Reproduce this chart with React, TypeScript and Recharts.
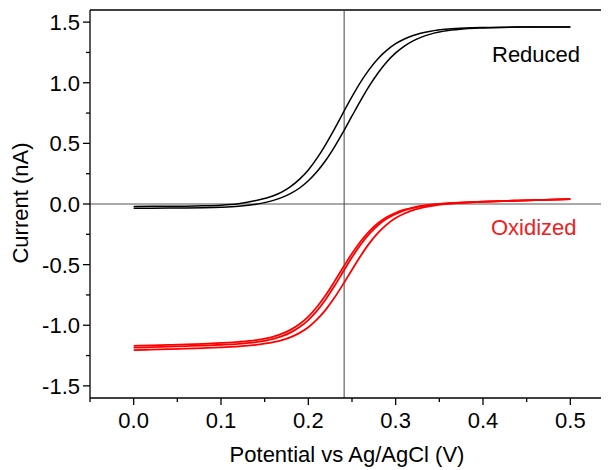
import { LineChart, Line, XAxis, YAxis, ReferenceLine } from 'recharts';

// potential (V vs Ag/AgCl)
const potential = [0, 0.02, 0.04, 0.06, 0.08, 0.1, 0.12, 0.14, 0.16, 0.17, 0.18, 0.19, 0.2, 0.21, 0.22, 0.23, 0.24, 0.25, 0.26, 0.27, 0.28, 0.29, 0.3, 0.31, 0.32, 0.34, 0.36, 0.38, 0.4, 0.44, 0.5];

// reduced form, two sweep directions (nA)
const reducedFwd = [-0.02, -0.019, -0.019, -0.018, -0.015, -0.01, 0.002, 0.028, 0.068, 0.1, 0.145, 0.205, 0.281, 0.378, 0.492, 0.619, 0.754, 0.885, 1.007, 1.112, 1.2, 1.269, 1.322, 1.361, 1.39, 1.425, 1.443, 1.452, 1.456, 1.459, 1.46];
const reducedRev = [-0.035, -0.035, -0.034, -0.033, -0.031, -0.027, -0.019, -0.002, 0.03, 0.055, 0.088, 0.132, 0.192, 0.268, 0.361, 0.472, 0.595, 0.726, 0.855, 0.976, 1.083, 1.173, 1.246, 1.303, 1.346, 1.401, 1.43, 1.445, 1.452, 1.459, 1.46];

// oxidized form, three traces (nA)
const oxidizedA = [-1.17, -1.166, -1.162, -1.158, -1.153, -1.146, -1.137, -1.122, -1.093, -1.069, -1.036, -0.99, -0.928, -0.847, -0.75, -0.638, -0.521, -0.408, -0.307, -0.223, -0.157, -0.108, -0.072, -0.047, -0.029, -0.006, 0.006, 0.013, 0.019, 0.028, 0.04];
const oxidizedB = [-1.185, -1.181, -1.177, -1.172, -1.167, -1.161, -1.153, -1.139, -1.112, -1.09, -1.059, -1.015, -0.957, -0.88, -0.785, -0.675, -0.557, -0.44, -0.334, -0.245, -0.173, -0.12, -0.081, -0.052, -0.032, -0.008, 0.005, 0.013, 0.019, 0.028, 0.04];
const oxidizedC = [-1.205, -1.201, -1.197, -1.193, -1.188, -1.182, -1.175, -1.162, -1.14, -1.123, -1.098, -1.063, -1.016, -0.952, -0.871, -0.772, -0.66, -0.542, -0.427, -0.323, -0.237, -0.168, -0.116, -0.078, -0.05, -0.017, 0.001, 0.011, 0.018, 0.028, 0.04];

const xTicks = [-0.05, 0, 0.05, 0.1, 0.15, 0.2, 0.25, 0.3, 0.35, 0.4, 0.45, 0.5, 0.55];
const yTicks = [-1.5, -1.25, -1, -0.75, -0.5, -0.25, 0, 0.25, 0.5, 0.75, 1, 1.25, 1.5];

const halfWave = 0.241;

const FONT = '"Liberation Sans", Arial, sans-serif';

const data = potential.map((e, i) => ({
  e,
  r1: reducedFwd[i],
  r2: reducedRev[i],
  o1: oxidizedA[i],
  o2: oxidizedB[i],
  o3: oxidizedC[i],
}));

const isMajor = (v: number, step: number) => Math.abs(v / step - Math.round(v / step)) < 1e-6;

function XTick(props: any) {
  const { x, y, payload } = props;
  const v = payload.value;
  const major = isMajor(v, 0.1);
  return (
    <g>
      <line x1={x} x2={x} y1={y} y2={y + (major ? 7 : 4)} stroke="#000" strokeWidth={1.3} />
      {major && (
        <text x={x} y={y + 30} textAnchor="middle" fontSize={22} fontFamily={FONT} fill="#000">
          {v.toFixed(1)}
        </text>
      )}
    </g>
  );
}

function YTick(props: any) {
  const { x, y, payload } = props;
  const v = payload.value;
  const major = isMajor(v, 0.5);
  return (
    <g>
      <line x1={x - (major ? 7 : 4)} x2={x} y1={y} y2={y} stroke="#000" strokeWidth={1.3} />
      {major && (
        <text x={x - 10} y={y + 8} textAnchor="end" fontSize={22} fontFamily={FONT} fill="#000">
          {v.toFixed(1)}
        </text>
      )}
    </g>
  );
}

const textStyle: React.CSSProperties = {
  position: 'absolute',
  fontFamily: FONT,
  fontSize: 22,
  lineHeight: 1,
  whiteSpace: 'nowrap',
};

export default function App() {
  return (
    <div style={{ position: 'relative', width: 601, height: 462, overflow: 'hidden' }}>
      <LineChart width={620} height={462} data={data} margin={{ top: 2, right: 14, left: 22, bottom: 42 }}>
        <XAxis
          dataKey="e"
          type="number"
          domain={[-0.05, 0.55]}
          ticks={xTicks}
          interval={0}
          allowDataOverflow
          height={30}
          tickSize={0}
          tickMargin={0}
          tickLine={false}
          axisLine={{ stroke: '#000', strokeWidth: 1.3 }}
          tick={<XTick />}
        />
        <YAxis
          type="number"
          domain={[-1.6, 1.6]}
          ticks={yTicks}
          interval={0}
          allowDataOverflow
          width={60}
          tickSize={0}
          tickMargin={0}
          tickLine={false}
          axisLine={{ stroke: '#000', strokeWidth: 1.3 }}
          tick={<YTick />}
        />
        <ReferenceLine y={1.6} stroke="#000" strokeWidth={1.3} />
        <ReferenceLine x={0.55} stroke="#000" strokeWidth={1.3} />
        <ReferenceLine y={0} stroke="#555" strokeWidth={1} />
        <ReferenceLine x={halfWave} stroke="#444" strokeWidth={1} />
        <Line dataKey="r1" type="monotone" stroke="#000" strokeWidth={1.5} dot={false} isAnimationActive={false} />
        <Line dataKey="r2" type="monotone" stroke="#000" strokeWidth={1.5} dot={false} isAnimationActive={false} />
        <Line dataKey="o1" type="monotone" stroke="#ff0000" strokeWidth={1.8} dot={false} isAnimationActive={false} />
        <Line dataKey="o2" type="monotone" stroke="#ff0000" strokeWidth={1.8} dot={false} isAnimationActive={false} />
        <Line dataKey="o3" type="monotone" stroke="#ff0000" strokeWidth={1.8} dot={false} isAnimationActive={false} />
      </LineChart>
      <div style={{ ...textStyle, left: 13, top: 195, transform: 'translate(-50%, -50%) rotate(-90deg)' }}>
        Current (nA)
      </div>
      <div style={{ ...textStyle, left: 339, top: 436, transform: 'translateX(-50%)' }}>
        Potential vs Ag/AgCl (V)
      </div>
      <div style={{ ...textStyle, left: 484, top: 36 }}>Reduced</div>
      <div style={{ ...textStyle, left: 483, top: 209, color: '#ee2020' }}>Oxidized</div>
    </div>
  );
}
